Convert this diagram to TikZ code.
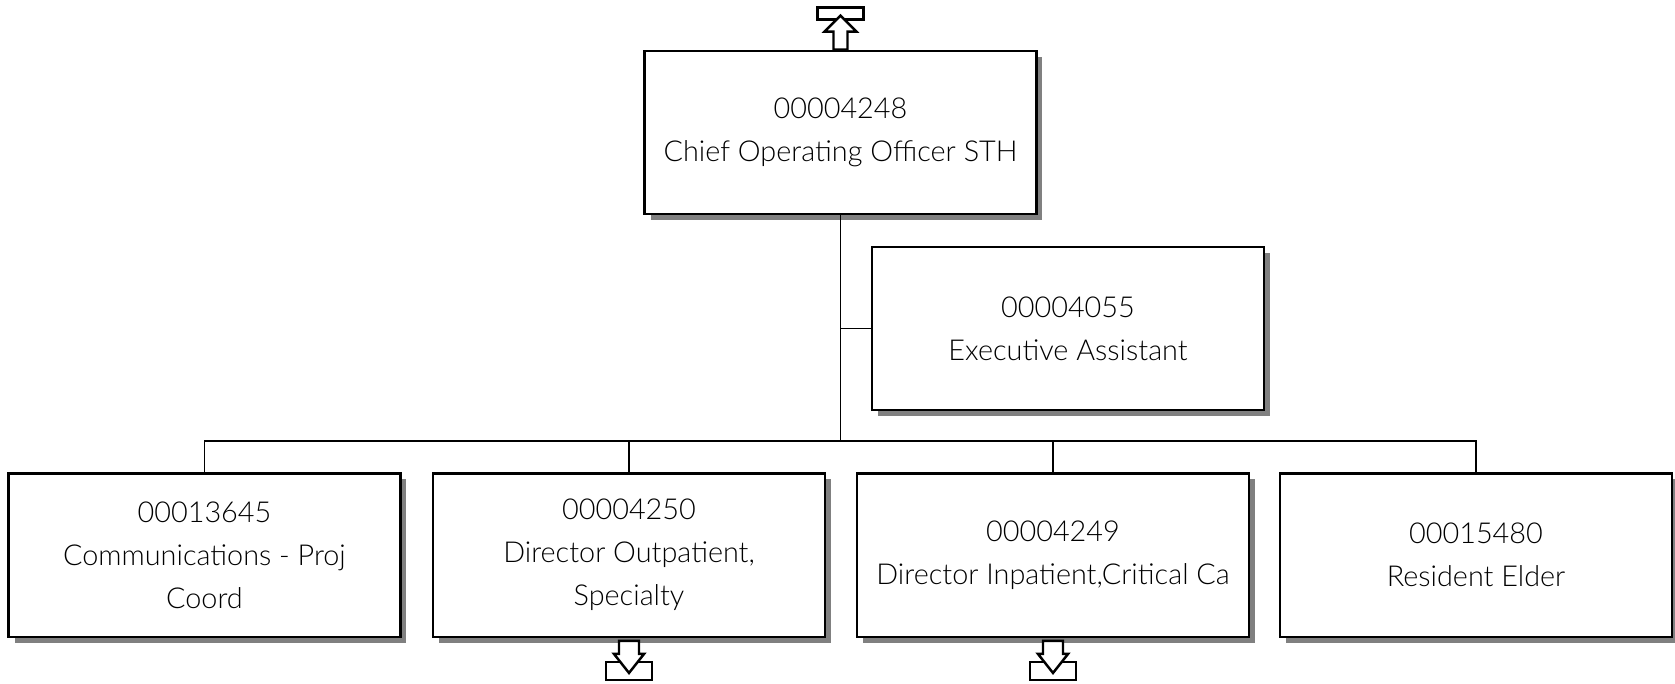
\documentclass[tikz,border=0pt]{standalone}
\usepackage{fontspec}
\setmainfont{Lato Light}
\usetikzlibrary{positioning,shadows}
\tikzset{
  posbox/.style={draw,line width=1.4pt,fill=white,align=center,
    minimum width=7.84cm,minimum height=3.27cm,inner sep=0pt,
    font=\fontsize{16.4}{24.5}\selectfont,
    drop shadow={shadow xshift=0.12cm,shadow yshift=-0.12cm,fill=black!50,opacity=1}},
  link/.style={line width=1.1pt},
  icon/.style={line width=1.4pt},
}

\begin{document}
\begin{tikzpicture}[x=0.02cm,y=-0.02cm]
  \useasboundingbox (0,0) rectangle (1675,683);
  % positions
  \node[posbox] (coo) at (840.5,132.5) {00004248\\Chief Operating Officer STH};
  \node[posbox] (exec) at (1068,328.5) {00004055\\Executive Assistant};
  \node[posbox] (comm) at (204.5,555) {00013645\\Communications - Proj\\Coord};
  \node[posbox] (outp) at (629,555) {00004250\\Director Outpatient,\\Specialty};
  \node[posbox] (inp) at (1053,555) {00004249\\Director Inpatient,Critical Ca};
  \node[posbox] (elder) at (1476,555) {00015480\\Resident Elder};
  % connectors
  \coordinate (bus) at (coo.south |- 0,441);
  \draw[link] (coo.south) -- (bus);
  \draw[link] (coo.south |- exec.west) -- (exec.west);
  \foreach \n in {comm,outp,inp,elder}
    \draw[link] (bus) -| (\n.north);
  % up icon
  \begin{scope}[shift={(coo.north)}]
    \draw[icon,fill=white] (-23,-42) rectangle (23,-30);
    \draw[icon,fill=white] (-7,0) -- (-7,-18) -- (-16,-18) -- (0,-34)
      -- (16,-18) -- (7,-18) -- (7,0) -- cycle;
  \end{scope}
  % down icons
  \foreach \n in {outp,inp} {
    \begin{scope}[shift={(\n.south)}]
      \draw[icon,fill=white] (-23,24) rectangle (23,42);
      \draw[icon,fill=white] (-10,3) -- (-10,16) -- (-15,16) -- (0,35)
        -- (15,16) -- (10,16) -- (10,3) -- cycle;
    \end{scope}
  }
\end{tikzpicture}
\end{document}
